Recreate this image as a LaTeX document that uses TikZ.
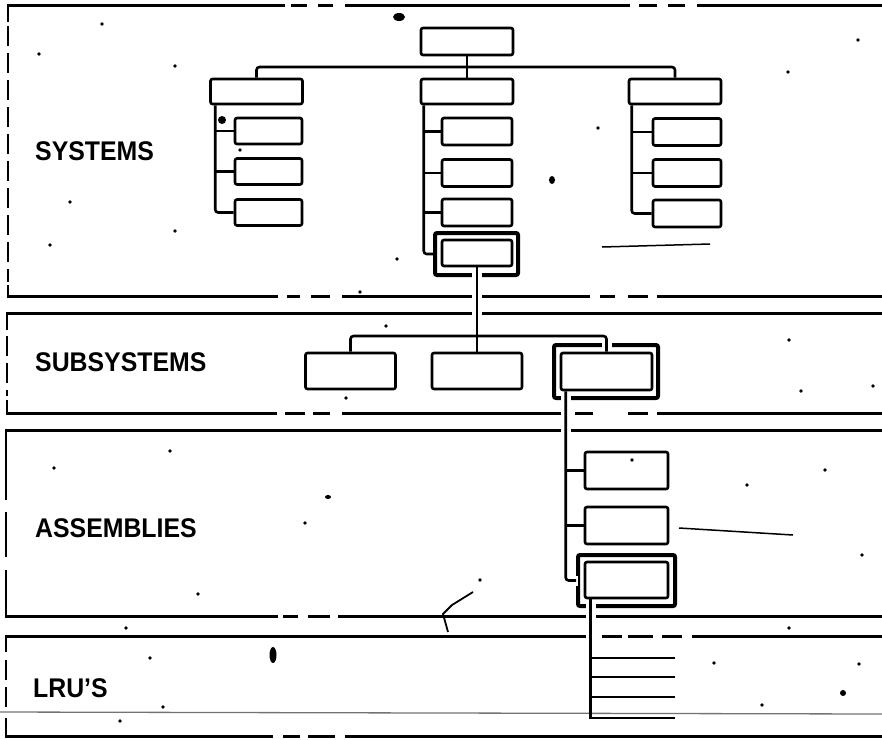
\documentclass[tikz,border=0pt]{standalone}
\usepackage{fontspec}
\setmainfont{Liberation Sans}
\begin{document}
\begin{tikzpicture}[x=1pt,y=-1pt,
  bandline/.style={line width=3pt},
  leftedge/.style={line width=2.6pt, dash pattern=on 20pt off 7pt},
  box/.style={draw, line width=2.6pt, rounded corners=2pt, inner sep=0pt},
  frame/.style={draw, line width=4pt, rounded corners=2pt, inner sep=0pt},
  conn/.style={line width=2.6pt},
  gap/.style={draw=white, line width=10pt},
  lab/.style={anchor=base west, inner sep=0pt, font=\fontsize{27}{30}\selectfont\bfseries},
  stray/.style={line width=1.5pt},
  speck/.style={fill=black}
]
\useasboundingbox (0,0) rectangle (882,739);

% ---------- band lines ----------
% SYSTEMS
\draw[bandline] (8,5) -- (285,5) (291,5) -- (307,5) (318,5) -- (333,5) (345,5) -- (630,5)
  (639,5) -- (657,5) (668,5) -- (685,5) (697,5) -- (882,5);
\draw[bandline] (8,296) -- (278,296) (287,296) -- (300,296) (311,296) -- (330,296) (342,296) -- (590,296)
  (600,296) -- (615,296) (628,296) -- (648,296) (657,296) -- (882,296);
\draw[line width=2.6pt] (8,3.5) -- (8,22) (8,297.5) -- (8,285);
\draw[leftedge] (8,26) -- (8,282);
% SUBSYSTEMS
\draw[bandline] (7,313) -- (882,313);
\draw[bandline] (7,413) -- (277,413) (285,413) -- (305,413) (313,413) -- (330,413) (342,413) -- (568,413)
  (575,413) -- (593,413) (628,413) -- (648,413) (657,413) -- (882,413);
\draw[line width=2.6pt] (7,311.5) -- (7,330) (7,414.5) -- (7,400);
\draw[leftedge] (7,336) -- (7,396);
% ASSEMBLIES
\draw[bandline] (6,430) -- (882,430);
\draw[bandline] (6,616) -- (278,616) (283,616) -- (298,616) (308,616) -- (330,616) (338,616) -- (882,616);
\draw[line width=2.6pt] (6,428.5) -- (6,500) (6,617.5) -- (6,570);
\draw[line width=2.6pt] (6,512) -- (6,557);
% LRU'S
\draw[bandline] (6,636) -- (596,636) (602,636) -- (622,636) (628,636) -- (653,636) (662,636) -- (682,636) (692,636) -- (882,636);
\draw[bandline] (6,736) -- (273,736) (283,736) -- (300,736) (308,736) -- (335,736) (345,736) -- (882,736);
\draw[line width=2.6pt] (6,634.5) -- (6,652) (6,737.5) -- (6,718);
\draw[leftedge] (6,660) -- (6,712);

% ---------- stray marks of the print ----------
\draw[line width=1.3pt, black!55] (0,712) -- (882,714);
\draw[stray] (602,247) -- (710,244);
\draw[stray] (679,528) -- (793,535);
\draw[line width=1.8pt] (473,592) -- (452,605) -- (443,614) -- (448,632);
\fill[speck] (399,17) ellipse (6pt and 4pt);
\fill[speck] (552,180) ellipse (3pt and 4pt);
\fill[speck] (273,655) ellipse (3.5pt and 8pt);
\fill[speck] (843,693) ellipse (3pt and 3pt);
\fill[speck] (328,497) ellipse (3pt and 2pt);
\fill[speck] (222,120) circle (4pt);
\foreach \p in {(102,24),(39,54),(175,66),(70,202),(50,245),(175,231),(397,259),(240,150),(598,128),(788,72),(858,40),(360,292),(386,326),(346,398),(789,340),(801,391),(873,386),(54,468),(170,451),(305,523),(198,594),(480,580),(632,460),(825,470),(862,555),(747,485),(789,628),(859,664),(714,663),(762,705),(126,628),(150,658),(163,707),(120,721)}
  \fill[speck] \p circle (1.8pt);

% ---------- highlight frames ----------
\node[frame, minimum width=83pt, minimum height=42pt] (mf) at (476.5,254) {};
\node[frame, minimum width=104pt, minimum height=53pt] (s3o) at (606,371.5) {};
\node[frame, minimum width=97pt, minimum height=51pt] (a3o) at (626.5,580.5) {};

% ---------- box positions ----------
\path (467,41.5) coordinate (pt0) (256.5,91.5) coordinate (pl1) (467,91.5) coordinate (pm1) (675,91.5) coordinate (pr1);

% gaps where connectors cross lines
\node[box, draw=none, minimum width=70pt, minimum height=26pt] (mc4) at (477,253) {};
\node[box, draw=none, minimum width=91pt, minimum height=37pt] (s3i) at (606.5,371.5) {};
\node[box, draw=none, minimum width=83pt, minimum height=36pt] (a3i) at (626.5,580) {};
\coordinate (ssp) at ([xshift=6pt]s3i.south west);
\coordinate (usp) at ([xshift=7pt]a3i.south west);
\draw[gap] (mc4.south) -- ++(0,60);
\draw[gap] (s3i.north) -- ++(0,-12);
\draw[gap] (ssp) |- ([xshift=2pt]a3o.west);
\draw[gap] (usp) -- ++(0,50);

% SYSTEMS boxes
\node[box, minimum width=92pt, minimum height=27pt] (t0) at (pt0) {};
\node[box, minimum width=92pt, minimum height=25pt] (l1) at (pl1) {};
\node[box, minimum width=92pt, minimum height=25pt] (m1) at (pm1) {};
\node[box, minimum width=92pt, minimum height=25pt] (r1) at (pr1) {};
\node[box, minimum width=67pt, minimum height=26pt] (lc1) at (268.5,131) {};
\node[box, minimum width=67pt, minimum height=26pt] (lc2) at (268.5,171.5) {};
\node[box, minimum width=67pt, minimum height=26pt] (lc3) at (268.5,212.5) {};
\node[box, minimum width=70pt, minimum height=27pt] (mc1) at (477,131.5) {};
\node[box, minimum width=70pt, minimum height=27pt] (mc2) at (477,173) {};
\node[box, minimum width=70pt, minimum height=27pt] (mc3) at (477,212.5) {};
\node[box, minimum width=70pt, minimum height=26pt] at (mc4) {};
\node[box, minimum width=68pt, minimum height=27pt] (rc1) at (687,132) {};
\node[box, minimum width=68pt, minimum height=27pt] (rc2) at (687,173) {};
\node[box, minimum width=68pt, minimum height=27pt] (rc3) at (687,213.5) {};
% SUBSYSTEMS boxes
\node[box, minimum width=90pt, minimum height=36pt] (s1) at (350.5,371) {};
\node[box, minimum width=90pt, minimum height=36pt] (s2) at (477,371) {};
\node[box, minimum width=91pt, minimum height=37pt] at (s3i) {};
% ASSEMBLIES boxes
\node[box, minimum width=83pt, minimum height=37pt] (a1) at (626.5,470.5) {};
\node[box, minimum width=83pt, minimum height=37pt] (a2) at (626.5,525.5) {};
\node[box, minimum width=83pt, minimum height=36pt] at (a3i) {};

% ---------- connectors ----------
\coordinate (bus1) at (467,67);
\draw[conn] (t0.south) -- (m1.north);
\draw[conn, rounded corners=3pt] (l1.north) |- (bus1) -| (r1.north);

\coordinate (lsp) at ([xshift=6pt]l1.south west);
\draw[conn, rounded corners=3pt] (lsp) |- (lc3.west);
\draw[conn] (lc1.west) -- (lc1.west -| lsp);
\draw[conn] (lc2.west) -- (lc2.west -| lsp);

\coordinate (msp) at ([xshift=4pt]m1.south west);
\draw[conn, rounded corners=3pt] (msp) |- (mf.west);
\draw[conn] (mc1.west) -- (mc1.west -| msp);
\draw[conn] (mc2.west) -- (mc2.west -| msp);
\draw[conn] (mc3.west) -- (mc3.west -| msp);

\coordinate (rsp) at ([xshift=4pt]r1.south west);
\draw[conn, rounded corners=3pt] (rsp) |- (rc3.west);
\draw[conn] (rc1.west) -- (rc1.west -| rsp);
\draw[conn] (rc2.west) -- (rc2.west -| rsp);

\draw[conn] (mc4.south) -- (s2.north);
\coordinate (bus2) at (477,336);
\draw[conn, rounded corners=3pt] (s1.north) |- (bus2) -| (s3i.north);

\draw[conn, rounded corners=3pt] (ssp) |- (a3o.west);
\draw[conn] (a1.west) -- (a1.west -| ssp);
\draw[conn] (a2.west) -- (a2.west -| ssp);

\coordinate (u1) at (675,658);
\coordinate (u2) at (675,677);
\coordinate (u3) at (675,697);
\coordinate (u4) at (675,718);
\draw[conn] (usp) |- (u4);
\draw[conn] (u1) -- (u1 -| usp);
\draw[conn] (u2) -- (u2 -| usp);
\draw[conn] (u3) -- (u3 -| usp);

% ---------- labels ----------
\node[lab] (sys) at (35,160) {\scalebox{0.92}[1]{SYSTEMS}};
\node[lab] (sub) at (35,371) {\scalebox{0.92}[1]{SUBSYSTEMS}};
\node[lab] (asm) at (35,537) {\scalebox{0.92}[1]{ASSEMBLIES}};
\node[lab] (lru) at (33,697) {\scalebox{0.92}[1]{LRU'S}};
\end{tikzpicture}
\end{document}
